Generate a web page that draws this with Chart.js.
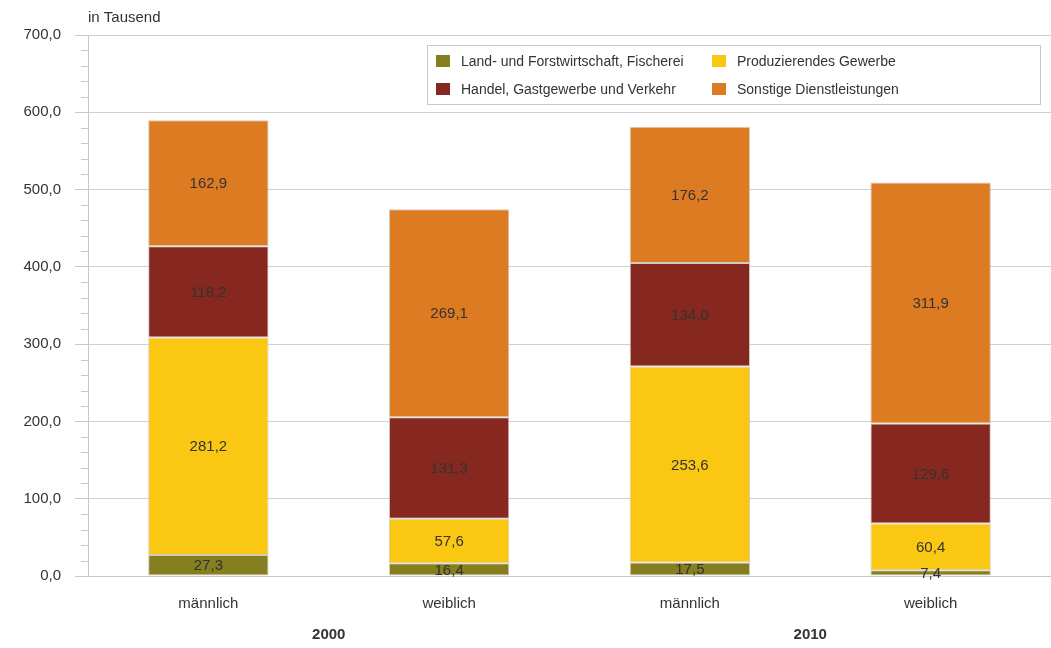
<!DOCTYPE html>
<html>
<head>
<meta charset="utf-8">
<script src="https://cdn.jsdelivr.net/npm/chart.js@4.4.0/dist/chart.umd.min.js"></script>
<style>
  html, body { margin: 0; padding: 0; background: #fff; }
  #wrap { width: 1051px; height: 648px; }
</style>
</head>
<body>
<div id="wrap"><canvas id="chart" width="1051" height="648"></canvas></div>
<script>
const categories = ['männlich', 'weiblich', 'männlich', 'weiblich'];
const years = ['2000', '2010'];
const landwirtschaft = [27.3, 16.4, 17.5, 7.4];
const produzierend = [281.2, 57.6, 253.6, 60.4];
const handel = [118.2, 131.3, 134.0, 129.6];
const sonstige = [162.9, 269.1, 176.2, 311.9];
const yTicks = [0, 100, 200, 300, 400, 500, 600, 700];

const fmt = v => v.toFixed(1).replace('.', ',');
const FONT = '"Liberation Sans", Arial, sans-serif';

// Werte in die Balken schreiben
const valueLabels = {
    id: 'valueLabels',
    afterDatasetsDraw(chart) {
        const c = chart.ctx;
        c.save();
        c.font = '15px ' + FONT;
        c.fillStyle = '#333';
        c.textAlign = 'center';
        c.textBaseline = 'middle';
        chart.data.datasets.forEach((ds, i) => {
            chart.getDatasetMeta(i).data.forEach((bar, j) => {
                const mid = (bar.y + bar.base) / 2;
                c.fillText(fmt(ds.data[j]), bar.x, mid + 1);
            });
        });
        c.restore();
    }
};

// Jahre unter den Kategorien, kleine Zwischenstriche, Einheit
const extras = {
    id: 'extras',
    afterDraw(chart) {
        const c = chart.ctx;
        const x = chart.scales.x, y = chart.scales.y;
        c.save();
        c.font = 'bold 15px ' + FONT;
        c.fillStyle = '#333';
        c.textAlign = 'center';
        c.textBaseline = 'middle';
        years.forEach((yr, k) => {
            const cx = (x.getPixelForValue(k * 2) + x.getPixelForValue(k * 2 + 1)) / 2;
            c.fillText(yr, cx, 635);
        });
        c.font = '15px ' + FONT;
        c.textAlign = 'left';
        c.fillText('in Tausend', chart.chartArea.left, 18);

        c.strokeStyle = '#c8c8c8';
        c.lineWidth = 1;
        for (let v = 20; v < 700; v += 20) {
            if (v % 100 === 0) continue;
            const py = Math.round(y.getPixelForValue(v)) + 0.5;
            c.beginPath();
            c.moveTo(chart.chartArea.left - 7, py);
            c.lineTo(chart.chartArea.left, py);
            c.stroke();
        }

        // Legende
        const lx = 427, ly = 45, lw = 613, lh = 59;
        c.fillStyle = '#fff';
        c.fillRect(lx, ly, lw, lh);
        c.strokeStyle = '#c8c8c8';
        c.strokeRect(lx + 0.5, ly + 0.5, lw, lh);
        c.font = '14px ' + FONT;
        const pos = [[436, 61], [436, 89], [712, 61], [712, 89]];
        const order = [0, 2, 1, 3];
        order.forEach((di, k) => {
            const ds = chart.data.datasets[di];
            const [px, py] = pos[k];
            c.fillStyle = ds.backgroundColor;
            c.fillRect(px, py - 6, 14, 12);
            c.fillStyle = '#333';
            c.textAlign = 'left';
            c.fillText(ds.label, px + 25, py + 1);
        });
        c.restore();
    }
};

new Chart(document.getElementById('chart'), {
    type: 'bar',
    data: {
        labels: categories,
        datasets: [
            { label: 'Land- und Forstwirtschaft, Fischerei', data: landwirtschaft, backgroundColor: '#857f1f' },
            { label: 'Produzierendes Gewerbe', data: produzierend, backgroundColor: '#fac813' },
            { label: 'Handel, Gastgewerbe und Verkehr', data: handel, backgroundColor: '#862820' },
            { label: 'Sonstige Dienstleistungen', data: sonstige, backgroundColor: '#dd7b22' }
        ].map(ds => Object.assign(ds, {
            borderColor: 'rgba(200,190,170,0.8)',
            borderWidth: 1,
            borderSkipped: false,
            barPercentage: 0.5,
            categoryPercentage: 1
        }))
    },
    options: {
        responsive: false,
        animation: false,
        layout: { padding: { top: 35, right: -10, bottom: 24, left: 0 } },
        plugins: {
            legend: { display: false },
            tooltip: { enabled: false }
        },
        scales: {
            x: {
                stacked: true,
                grid: { display: false },
                border: { display: true, color: '#c8c8c8' },
                ticks: { color: '#333', font: { family: FONT, size: 15 }, padding: 11 }
            },
            y: {
                stacked: true,
                min: 0,
                max: 700,
                afterFit(axis) { axis.width = 88; },
                afterBuildTicks(axis) { axis.ticks = yTicks.map(v => ({ value: v })); },
                grid: { color: '#d0d0d0', tickLength: 13, tickColor: '#c8c8c8' },
                border: { display: true, color: '#c8c8c8' },
                ticks: {
                    color: '#333',
                    font: { family: FONT, size: 15 },
                    padding: 14,
                    callback: v => fmt(v)
                }
            }
        }
    },
    plugins: [valueLabels, extras]
});
</script>
</body>
</html>
